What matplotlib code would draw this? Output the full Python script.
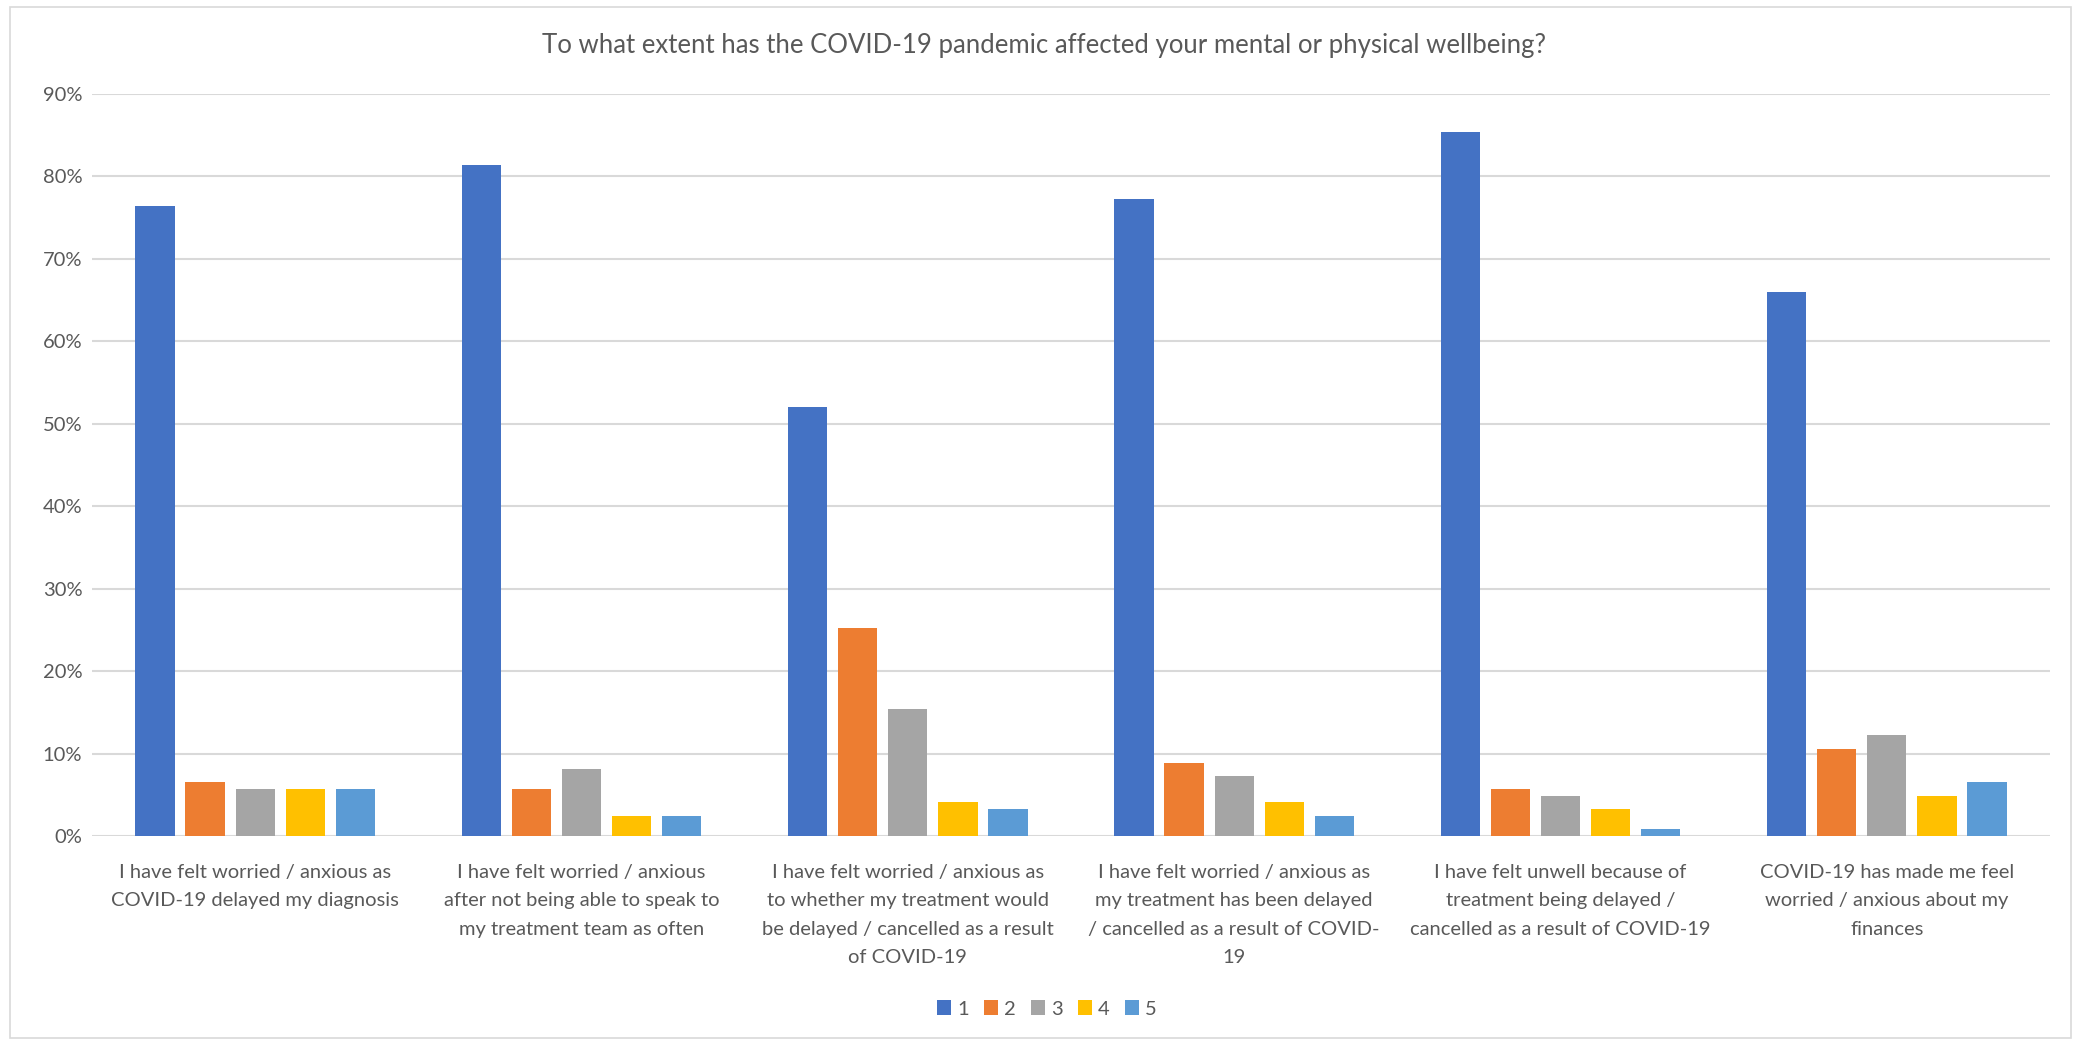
import matplotlib
matplotlib.use("Agg")
import matplotlib.pyplot as plt
from matplotlib.ticker import PercentFormatter, MultipleLocator
from matplotlib.patches import Rectangle, Patch
import numpy as np

plt.rcParams['font.family'] = ['Lato', 'DejaVu Sans']

title = "To what extent has the COVID-19 pandemic affected your mental or physical wellbeing?"

categories = [
    "I have felt worried / anxious as\nCOVID-19 delayed my diagnosis",
    "I have felt worried / anxious\nafter not being able to speak to\nmy treatment team as often",
    "I have felt worried / anxious as\nto whether my treatment would\nbe delayed / cancelled as a result\nof COVID-19",
    "I have felt worried / anxious as\nmy treatment has been delayed\n/ cancelled as a result of COVID-\n19",
    "I have felt unwell because of\ntreatment being delayed /\ncancelled as a result of COVID-19",
    "COVID-19 has made me feel\nworried / anxious about my\nfinances",
]

series_names = ["1", "2", "3", "4", "5"]
s1 = [76.4, 81.3, 52.0, 77.2, 85.4, 65.9]
s2 = [6.5, 5.7, 25.2, 8.9, 5.7, 10.6]
s3 = [5.7, 8.1, 15.4, 7.3, 4.9, 12.2]
s4 = [5.7, 2.4, 4.1, 4.1, 3.3, 4.9]
s5 = [5.7, 2.4, 3.3, 2.4, 0.8, 6.5]
series = [s1, s2, s3, s4, s5]
colors = ["#4472C4", "#ED7D31", "#A5A5A5", "#FFC000", "#5B9BD5"]

W, H = 2087, 1044
fig = plt.figure(figsize=(W / 100, H / 100), dpi=100)
fig.patch.set_facecolor("white")

# outer chart frame
fig.patches.append(Rectangle((10 / W, 1 - 1038 / H), (2071 - 10) / W, (1038 - 7) / H,
                             transform=fig.transFigure, fill=False,
                             edgecolor="#D9D9D9", linewidth=1.2))

ax = fig.add_axes([92 / W, 1 - 836 / H, (2050 - 92) / W, (836 - 93.7) / H])
x = np.arange(len(categories))
bw = 0.12
step = 0.1535
for i, (vals, c, n) in enumerate(zip(series, colors, series_names)):
    ax.bar(x + (i - 2) * step, np.array(vals) / 100.0, width=bw, color=c, label=n, zorder=3)

ax.set_xlim(-0.5, len(categories) - 0.5)
ax.set_ylim(0, 0.9)
ax.yaxis.set_major_locator(MultipleLocator(0.1))
ax.yaxis.set_major_formatter(PercentFormatter(1.0, decimals=0))
ax.grid(axis="y", color="#D9D9D9", linewidth=1.5, zorder=0)
for sp in ax.spines.values():
    sp.set_visible(False)
ax.tick_params(axis="both", length=0, colors="#595959")
ax.tick_params(axis="y", labelsize=14.5, pad=7)
ax.set_xticks(x)
ax.set_xticklabels(categories, fontsize=14.5, linespacing=1.82, color="#595959")
ax.tick_params(axis="x", pad=20)

fig.text(0.5, 1 - 46 / H, title, ha="center", va="center", fontsize=18.5, color="#595959")

handles = [Patch(facecolor=c, edgecolor="none") for c in colors]
fig.legend(handles, series_names, loc="center", bbox_to_anchor=(1047 / W, 1 - 1009 / H),
           ncol=5, frameon=False, fontsize=14.5, handlelength=0.7, handleheight=0.7,
           handletextpad=0.3, columnspacing=0.75, labelcolor="#595959")

fig.savefig("out.png", dpi=100, facecolor="white")
